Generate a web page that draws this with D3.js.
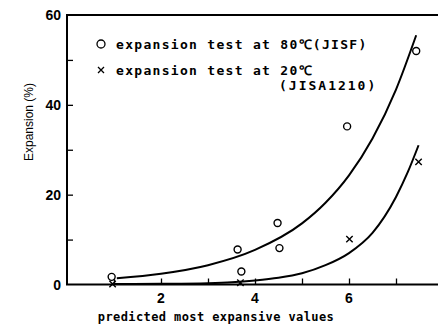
<!DOCTYPE html>
<html>
<head>
<meta charset="utf-8">
<script src="https://cdn.jsdelivr.net/npm/d3@7"></script>
<style>
  body { margin: 0; background: #fff; }
  svg { display: block; }
</style>
</head>
<body>
<div id="container"></div>
<script>
/* CONSTANTS AND GLOBALS */
const width = 438,
    height = 329

// DATA
const circlePoints = [[0.95, 1.7], [3.63, 7.8], [3.71, 2.9], [4.48, 13.7], [4.52, 8.1], [5.96, 35.2], [7.43, 52]]
const crossPoints = [[0.97, 0.1], [3.69, 0.4], [6.01, 10.1], [7.48, 27.3]]
// fitted curves
const curve80 = [[1.06, 1.4], [2, 2.4], [3, 4.3], [4, 7.7], [5, 13.6], [5.5, 18.2], [6, 24.3], [6.5, 32.5], [7, 43.4], [7.43, 55.5]]
const curve20 = [[1.0, 0.1], [2, 0.15], [3, 0.3], [3.5, 0.5], [4, 0.9], [4.5, 1.5], [5, 2.5], [5.5, 4.3], [6, 7.0], [6.5, 11.5], [7, 19.5], [7.25, 25], [7.48, 31]]
const xTicks = [2, 4, 6]
const xMinorTicks = [1, 2, 3, 4, 5, 6, 7]
const yTicks = [0, 20, 40, 60]
const yMinorTicks = [10, 20, 30, 40, 50]

//SCALE
const xScale = d3.scaleLinear().domain([0, 8]).range([67, 443])
const yScale = d3.scaleLinear().domain([0, 60]).range([284.5, 15])

//SVG
const svg = d3.select("#container")
    .append("svg")
    .attr("width", width)
    .attr("height", height)

// frame: left, bottom, top
svg.append("path")
    .attr("d", `M${xScale(8)},${yScale(60)}H${xScale(0)}V${yScale(0)}H${xScale(8)}`)
    .attr("fill", "none")
    .attr("stroke", "#000")
    .attr("stroke-width", 2)

// AXES (ticks pointing inward)
const xAxis = d3.axisTop(xScale).tickValues(xMinorTicks).tickSize(6).tickFormat("")
svg.append("g")
    .attr("transform", `translate(0,${yScale(0)})`)
    .call(xAxis)
    .call(g => g.select(".domain").remove())
    .call(g => g.selectAll("line").attr("stroke-width", 1.3))

const yAxis = d3.axisRight(yScale).tickValues(yMinorTicks).tickSize(6).tickFormat("")
svg.append("g")
    .attr("transform", `translate(${xScale(0)},0)`)
    .call(yAxis)
    .call(g => g.select(".domain").remove())
    .call(g => g.selectAll("line").attr("stroke-width", 1.3))

// tick labels
svg.selectAll(".xlab")
    .data(xTicks)
    .join("text")
    .attr("x", d => xScale(d))
    .attr("y", 303)
    .attr("text-anchor", "middle")
    .style("font", "bold 14px 'Liberation Sans', Arial, sans-serif")
    .text(d => d)

svg.selectAll(".ylab")
    .data(yTicks)
    .join("text")
    .attr("x", 61)
    .attr("y", d => yScale(d) + 5)
    .attr("text-anchor", "end")
    .style("font", "bold 14px 'Liberation Sans', Arial, sans-serif")
    .text(d => d)

// CURVES
const line = d3.line()
    .x(d => xScale(d[0]))
    .y(d => yScale(d[1]))
    .curve(d3.curveMonotoneX)

svg.selectAll(".fit")
    .data([curve80, curve20])
    .join("path")
    .attr("d", d => line(d))
    .attr("fill", "none")
    .attr("stroke", "#000")
    .attr("stroke-width", 2)

// MARKERS
svg.selectAll(".circ")
    .data(circlePoints)
    .join("circle")
    .attr("cx", d => xScale(d[0]))
    .attr("cy", d => yScale(d[1]))
    .attr("r", 3.5)
    .attr("fill", "#fff")
    .attr("stroke", "#000")
    .attr("stroke-width", 1.4)

const s = 3.2
svg.selectAll(".cross")
    .data(crossPoints)
    .join("path")
    .attr("d", d => {
        const x = xScale(d[0]), y = yScale(d[1])
        return `M${x - s},${y - s}L${x + s},${y + s}M${x - s},${y + s}L${x + s},${y - s}`
    })
    .attr("stroke", "#000")
    .attr("stroke-width", 1.4)

// LEGEND
const legendFont = "bold 13px 'DejaVu Sans Mono', monospace"
svg.append("circle")
    .attr("cx", 101).attr("cy", 44).attr("r", 4)
    .attr("fill", "none").attr("stroke", "#000").attr("stroke-width", 1.3)
svg.append("path")
    .attr("d", `M${101 - 3},${70 - 3}L${101 + 3},${70 + 3}M${101 - 3},${70 + 3}L${101 + 3},${70 - 3}`)
    .attr("stroke", "#000").attr("stroke-width", 1.3)

svg.append("text")
    .attr("x", 116).attr("y", 49)
    .style("font", legendFont)
    .style("letter-spacing", "1.3px")
    .text("expansion test at 80℃(JISF)")
svg.append("text")
    .attr("x", 116).attr("y", 75)
    .style("font", legendFont)
    .style("letter-spacing", "1.3px")
    .text("expansion test at 20℃")
svg.append("text")
    .attr("x", 279).attr("y", 90)
    .style("font", legendFont)
    .style("letter-spacing", "2px")
    .text("(JISA1210)")

// AXIS TITLES
svg.append("text")
    .attr("transform", "translate(33,122) rotate(-90)")
    .attr("text-anchor", "middle")
    .attr("fill", "#000")
    .style("font", "12px 'Liberation Sans', Arial, sans-serif")
    .text("Expansion (%)")

svg.append("text")
    .attr("x", 216).attr("y", 321)
    .attr("text-anchor", "middle")
    .style("font", "bold 12px 'DejaVu Sans Mono', monospace")
    .style("letter-spacing", "0.4px")
    .text("predicted most expansive values")
</script>
</body>
</html>
